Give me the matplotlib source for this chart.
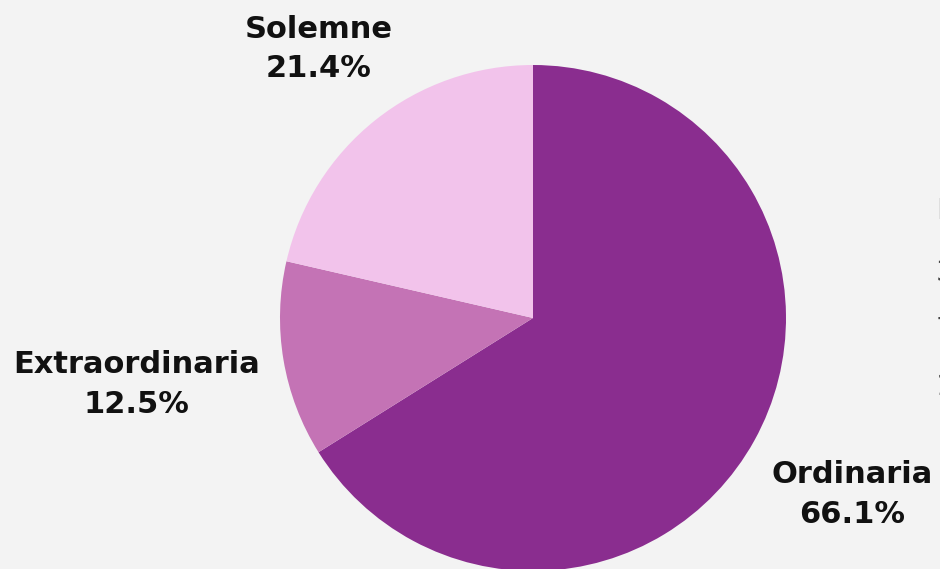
import numpy as np
import matplotlib.pyplot as plt

# datos
tipos = ['Ordinaria', 'Extraordinaria', 'Solemne']
porcentajes = [66.1, 12.5, 21.4]
colores = ['#8a2d8f', '#c473b5', '#f2c3eb']
dist_etiqueta = [1.44, 1.59, 1.36]  # distancia de cada etiqueta (en radios)
leyenda_txt = ['Número', '3', '7', '1']

W, H = 940, 569
fig = plt.figure(figsize=(W / 100, H / 100), dpi=100)
fig.patch.set_facecolor('#f3f3f3')
ax = fig.add_axes([0, 0, 1, 1])
ax.set_facecolor('#f3f3f3')

cx, cy, r = 533, H - 318, 253
wedges, _ = ax.pie(porcentajes, colors=colores, startangle=90, counterclock=False,
                   center=(cx, cy), radius=r, wedgeprops=dict(linewidth=0))
ax.set_xlim(0, W)
ax.set_ylim(0, H)
ax.set_aspect('equal')
ax.axis('off')

for w, t, p, d in zip(wedges, tipos, porcentajes, dist_etiqueta):
    ang = np.deg2rad((w.theta1 + w.theta2) / 2)
    x = cx + d * r * np.cos(ang)
    y = cy + d * r * np.sin(ang)
    ax.text(x, y, f'{t}\n{p:.1f}%', ha='center', va='center', fontsize=22,
            fontweight='bold', family='DejaVu Sans', color='#111111', linespacing=1.45)

# leyenda cortada en el borde derecho
for i, t in enumerate(leyenda_txt):
    ax.text(936, H - 211 - i * 57 - (5 if i else 0), t, ha='left', va='center',
            fontsize=21, family='DejaVu Sans', color='#444444' if i else '#555555')

fig.savefig('out.png', dpi=100, facecolor=fig.get_facecolor())
